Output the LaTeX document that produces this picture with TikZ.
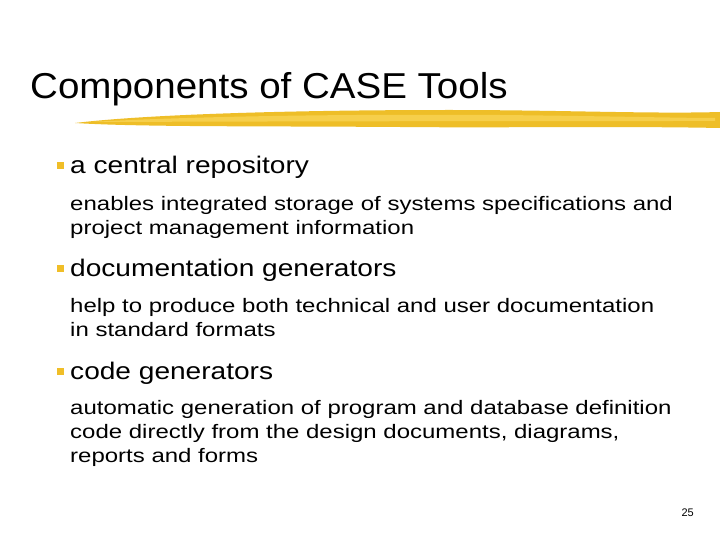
\documentclass[tikz,border=0pt]{standalone}
\usepackage{fontspec}
\setmainfont{Liberation Sans}
\begin{document}
\begin{tikzpicture}[x=1pt,y=1pt,
  bul/.style={fill=bulletc,minimum size=7pt,inner sep=0pt},
  head/.style={anchor=base west,font=\fontsize{24}{28}\selectfont,inner sep=0pt,xscale=1.17},
  body/.style={anchor=north west,font=\fontsize{19.5}{24}\selectfont,inner sep=0pt,align=left,xscale=1.23}]
\definecolor{bulletc}{RGB}{240,190,40}
\definecolor{brushA}{RGB}{238,190,40}
\definecolor{brushB}{RGB}{250,215,90}
\useasboundingbox[fill=white] (0,0) rectangle (720,-540);
% brush stroke
\fill[brushA] (75,-123) .. controls (150,-114) and (300,-110) .. (450,-110)
  .. controls (560,-110) and (650,-114) .. (720,-112) -- (720,-128)
  .. controls (620,-126) and (500,-128) .. (400,-127)
  .. controls (250,-126) and (140,-127) .. (75,-123) -- cycle;
\fill[brushB,opacity=0.7] (90,-122) .. controls (200,-116) and (350,-114) .. (500,-115)
  .. controls (600,-116) and (680,-118) .. (715,-118) -- (715,-121)
  .. controls (600,-121) and (400,-121) .. (90,-122) -- cycle;
\node[anchor=base west,inner sep=0pt,font=\fontsize{36}{40}\selectfont,xscale=1.07] (title) at (30,-99) {Components of CASE Tools};
\node[bul] (b1) at (60,-166) {};
\node[head] (h1) at (70,-174) {a central repository};
\node[body] (t1) at (70,-196) {enables integrated storage of systems specifications and\\project management information};
\node[bul] (b2) at (60,-268) {};
\node[head] (h2) at (70,-276) {documentation generators};
\node[body] (t2) at (70,-298) {help to produce both technical and user documentation\\in standard formats};
\node[bul] (b3) at (60,-371) {};
\node[head] (h3) at (70,-379) {code generators};
\node[body] (t3) at (70,-400) {automatic generation of program and database definition\\code directly from the design documents, diagrams,\\reports and forms};
\node[anchor=base east,inner sep=0pt,font=\fontsize{11}{13}\selectfont] (pg) at (694,-516) {25};
\end{tikzpicture}
\end{document}
